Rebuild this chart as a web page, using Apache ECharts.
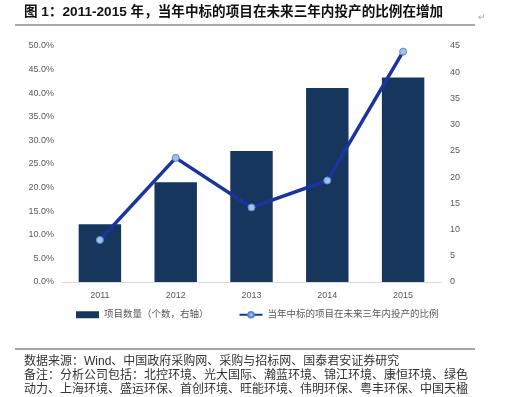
<!DOCTYPE html>
<html><head><meta charset="utf-8">
<script src="https://cdn.jsdelivr.net/npm/echarts@6/dist/echarts.min.js"></script>
<style>html,body{margin:0;padding:0;background:#fff;}#c{width:520px;height:397px;}</style>
</head><body><div id="c"></div>
<script>
const years = ['2011','2012','2013','2014','2015'];
const projectCounts = [11, 19, 25, 37, 39];
const ratioPct = [8.9, 26.3, 15.8, 21.5, 48.8];
const leftTicks = {min:0, max:50, interval:5};
const rightTicks = {min:0, max:45, interval:5};
const barName = '项目数量（个数，右轴）';
const lineName = '当年中标的项目在未来三年内投产的比例';
const titleText = '图 1：2011-2015 年，当年中标的项目在未来三年内投产的比例在增加';
const noteLines = [
  '数据来源：Wind、中国政府采购网、采购与招标网、国泰君安证券研究',
  '备注：分析公司包括：北控环境、光大国际、瀚蓝环境、锦江环境、康恒环境、绿色',
  '动力、上海环境、盛运环保、首创环境、旺能环境、伟明环保、粤丰环保、中国天楹'
];
const CJK = '"Liberation Sans","Noto Sans CJK SC",sans-serif';
const chart = echarts.init(document.getElementById('c'));
chart.setOption({
  animation:false,
  backgroundColor:'#fff',
  textStyle:{fontFamily:CJK},
  grid:{left:62, right:79, top:46, height:236},
  legend:{left:71, top:305, itemGap:30, textStyle:{fontSize:9.5,color:'#595959',fontFamily:CJK},
    data:[{name:barName, icon:'rect', itemWidth:23, itemHeight:7},{name:lineName, itemWidth:28, itemHeight:8}],
    itemWidth:23, itemHeight:7},
  xAxis:{type:'category', data:years,
    axisLine:{lineStyle:{color:'#d9d9d9', width:1}}, axisTick:{show:false},
    axisLabel:{color:'#595959', fontSize:9, margin:9}},
  yAxis:[
    {type:'value', min:leftTicks.min, max:leftTicks.max, interval:leftTicks.interval, position:'left',
     axisLabel:{formatter:v=>v.toFixed(1)+'%', color:'#595959', fontSize:9, margin:8},
     splitLine:{show:false}, axisLine:{show:false}, axisTick:{show:false}},
    {type:'value', min:rightTicks.min, max:rightTicks.max, interval:rightTicks.interval, position:'right',
     axisLabel:{color:'#595959', fontSize:9, margin:9},
     splitLine:{show:false}, axisLine:{show:false}, axisTick:{show:false}}
  ],
  series:[
    {name:barName, type:'bar', yAxisIndex:1, data:projectCounts, barWidth:'56%',
     itemStyle:{color:'#17365d'}},
    {name:lineName, type:'line', yAxisIndex:0, data:ratioPct, symbol:'circle', symbolSize:7,
     lineStyle:{color:'#1a34a0', width:3.5},
     itemStyle:{color:'#9cc2ea', borderColor:'#5b87c9', borderWidth:1}}
  ],
  graphic:[
    {type:'text', left:24, top:5, style:{text:titleText, font:'bold 13.6px '+CJK, fill:'#111'}},
    {type:'text', left:478, top:13, style:{text:'↵', font:'9px '+CJK, fill:'#aaa'}},
    {type:'line', shape:{x1:15,y1:25,x2:475,y2:25}, style:{stroke:'#555', lineWidth:1}},
    {type:'line', shape:{x1:15,y1:349,x2:475,y2:349}, style:{stroke:'#888', lineWidth:1.5}},
    {type:'text', left:24, top:356, style:{text:noteLines[0], font:'12px '+CJK, fill:'#333'}},
    {type:'text', left:24, top:370, style:{text:noteLines[1], font:'12px '+CJK, fill:'#333'}},
    {type:'text', left:24, top:384, style:{text:noteLines[2], font:'12px '+CJK, fill:'#333'}}
  ]
});
</script></body></html>
